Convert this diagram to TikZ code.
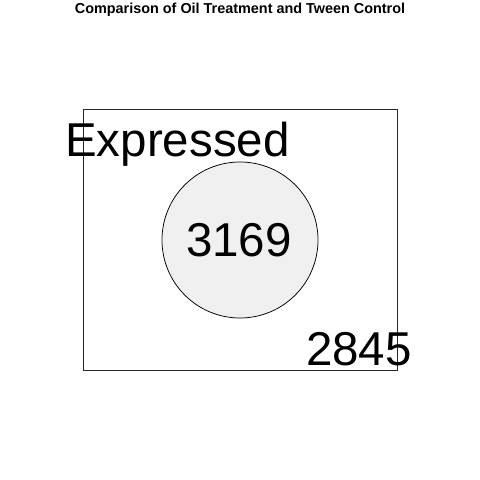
\documentclass[tikz,border=0pt]{standalone}
\usepackage{fontspec}
\setmainfont{Liberation Sans}
\usepackage{xcolor}
\definecolor{setfill}{RGB}{240,240,240}

\begin{document}
\begin{tikzpicture}[
    x=1pt, y=1pt,
    bigtxt/.style={font=\fontsize{47.5}{47.5}\selectfont, inner sep=0pt, anchor=base},
    frame/.style={draw=black!85, line width=0.75pt}
]
\useasboundingbox (0,0) rectangle (480,480);

% Title
\node[font=\fontsize{14.4}{14.4}\selectfont\bfseries, inner sep=0pt, anchor=base] (title) at (240,466) {Comparison of Oil Treatment and Tween Control};

% Universe and set
\draw[frame] (83,110) rectangle (397,371);
\draw[line width=0.75pt, fill=setfill] (240,240) circle (78);

% Counts
\node[bigtxt] (setname) at (177.5,323) {Expressed};
\node[bigtxt] (inside) at (239,223) {3169};
\node[bigtxt] (outside) at (359,114) {2845};
\end{tikzpicture}
\end{document}
